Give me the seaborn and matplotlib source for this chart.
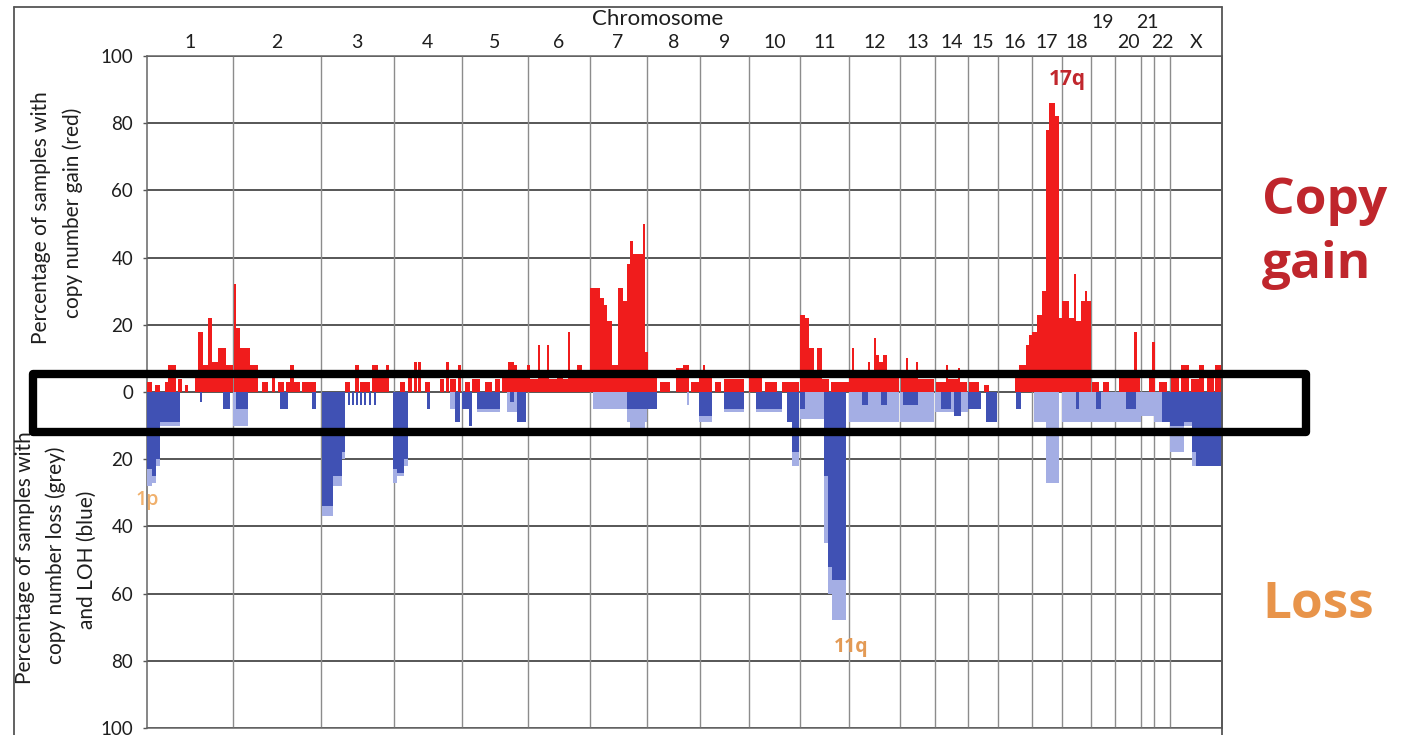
import numpy as np
import pandas as pd
import matplotlib
matplotlib.use("Agg")
import matplotlib.pyplot as plt
import seaborn as sns
from matplotlib import font_manager
from matplotlib.transforms import blended_transform_factory
from matplotlib.patches import Rectangle
from matplotlib.lines import Line2D

# ---------------- data ----------------
chrom_names = ['1', '2', '3', '4', '5', '6', '7', '8', '9', '10', '11', '12',
               '13', '14', '15', '16', '17', '18', '19', '20', '21', '22', 'X']
chrom_sizes = [86, 88, 73, 68, 66, 62, 57, 54, 49, 51, 49, 51,
               35, 33, 30, 34, 30, 29, 24, 26, 13, 16, 52]

# (start, end, percent) along the concatenated genome
gain_segments = [
    (0, 5, 3), (8, 13, 2), (18, 21, 3), (21, 29, 8), (31, 35, 4), (38, 41, 2), (48, 51, 5),
    (51, 56, 18), (56, 61, 8), (61, 65, 22), (65, 71, 9), (71, 79, 13), (79, 86, 8),
    (87, 89, 32), (89, 93, 19), (93, 103, 13), (103, 111, 8), (115, 121, 3), (125, 128, 5),
    (131, 137, 3), (139, 143, 3), (143, 147, 8), (147, 153, 3), (155, 169, 3),
    (198, 203, 3), (208, 212, 8), (213, 223, 3), (225, 231, 8), (231, 239, 5), (239, 242, 8),
    (253, 258, 3), (261, 265, 5), (267, 270, 9), (271, 274, 9), (278, 283, 3), (293, 297, 4),
    (299, 302, 9), (303, 309, 4), (311, 314, 8),
    (318, 323, 3), (325, 333, 4), (338, 345, 3), (348, 353, 4), (355, 361, 6), (361, 367, 9),
    (367, 370, 8), (370, 380, 5),
    (380, 383, 8), (383, 391, 4), (391, 393, 14), (393, 400, 5), (400, 402, 14), (402, 410, 4),
    (410, 416, 5), (416, 421, 4), (421, 423, 18), (423, 430, 5), (430, 435, 8), (435, 443, 5),
    (443, 453, 31), (453, 457, 28), (457, 460, 26), (460, 465, 21), (465, 471, 8), (471, 476, 31),
    (476, 480, 27), (480, 483, 38), (483, 486, 45), (486, 496, 41), (496, 498, 50), (498, 501, 12),
    (501, 510, 5),
    (513, 523, 3), (529, 536, 7), (536, 543, 8), (545, 553, 3),
    (553, 557, 5), (557, 559, 8), (559, 566, 5), (569, 575, 3), (578, 598, 4),
    (603, 616, 5), (619, 631, 3), (636, 653, 3),
    (654, 659, 23), (659, 663, 22), (663, 668, 13), (668, 671, 6), (671, 676, 13), (676, 683, 4),
    (685, 703, 3),
    (703, 706, 5), (706, 708, 13), (708, 722, 5), (722, 724, 9), (724, 728, 5), (728, 730, 16),
    (730, 733, 11), (733, 737, 9), (737, 741, 11), (741, 753, 6),
    (755, 760, 5), (760, 762, 10), (762, 770, 5), (770, 772, 9), (772, 788, 4),
    (790, 800, 3), (800, 802, 8), (802, 812, 4), (812, 814, 7), (814, 821, 3),
    (823, 833, 3), (838, 843, 2),
    (869, 873, 5), (873, 880, 8), (880, 883, 14), (883, 886, 17),
    (886, 891, 18), (891, 896, 23), (896, 900, 30), (900, 903, 78), (903, 909, 86), (909, 913, 82),
    (913, 916, 22),
    (916, 923, 27), (923, 928, 22), (928, 930, 35), (930, 935, 21), (935, 939, 27), (939, 941, 30),
    (941, 945, 27),
    (946, 953, 3), (957, 963, 3),
    (973, 988, 5), (988, 991, 18), (991, 994, 5),
    (1003, 1006, 5), (1006, 1009, 15), (1013, 1021, 3),
    (1025, 1033, 5), (1035, 1043, 8), (1045, 1053, 4), (1053, 1058, 8), (1061, 1068, 5),
    (1069, 1076, 8),
]

loss_segments = [
    (0, 5, 28), (5, 9, 27), (9, 13, 22), (13, 33, 10), (53, 55, 3), (76, 83, 5), (86, 101, 10),
    (133, 141, 5), (165, 169, 5),
    (175, 186, 37), (186, 195, 28), (195, 198, 20), (201, 203, 4), (205, 207, 4), (209, 211, 4),
    (213, 215, 4), (217, 219, 4), (222, 224, 4), (227, 229, 4),
    (246, 250, 27), (250, 257, 25), (257, 261, 22), (280, 283, 5), (303, 308, 5), (308, 313, 9),
    (315, 322, 5), (322, 325, 10), (330, 353, 6), (360, 370, 6), (370, 379, 9),
    (446, 480, 5), (480, 483, 9), (483, 498, 12), (498, 500, 9), (500, 510, 5),
    (541, 543, 4),
    (553, 566, 9), (578, 598, 6),
    (610, 636, 6), (641, 646, 9), (646, 653, 22),
    (654, 678, 8), (678, 682, 45), (682, 686, 60), (686, 700, 68),
    (703, 753, 9), (754, 788, 9), (789, 822, 6),
    (822, 835, 5), (840, 851, 9), (870, 875, 5),
    (888, 900, 9), (900, 913, 27),
    (916, 945, 9), (945, 969, 9), (969, 995, 9), (995, 1008, 7), (1008, 1024, 9),
    (1024, 1038, 18), (1038, 1046, 10), (1046, 1076, 22),
]

loh_segments = [
    (0, 5, 23), (5, 9, 25), (9, 13, 20), (13, 33, 9), (53, 55, 3), (76, 83, 5), (89, 101, 5),
    (133, 141, 5), (165, 169, 5),
    (175, 186, 34), (186, 195, 25), (195, 198, 18), (201, 203, 4), (205, 207, 4), (209, 211, 4),
    (213, 215, 4), (217, 219, 4), (222, 224, 4), (227, 229, 4),
    (246, 250, 23), (250, 257, 24), (257, 261, 20), (280, 283, 5), (308, 313, 9),
    (315, 322, 5), (322, 325, 10), (330, 353, 5), (363, 367, 3), (370, 379, 9),
    (480, 500, 5), (500, 510, 5),
    (553, 566, 7), (578, 598, 5),
    (610, 636, 5), (641, 646, 9), (646, 653, 18),
    (654, 659, 5), (678, 682, 25), (682, 686, 52), (686, 700, 56),
    (716, 722, 4), (735, 741, 4), (757, 772, 4),
    (795, 805, 5), (808, 815, 7), (822, 835, 5), (840, 851, 9), (870, 875, 5),
    (930, 933, 5), (950, 955, 5), (980, 990, 5), (1016, 1024, 9),
    (1024, 1038, 10), (1038, 1046, 9), (1046, 1050, 18), (1050, 1076, 22),
]

y_ticks = [-100, -80, -60, -40, -20, 0, 20, 40, 60, 80, 100]

# ---------------- style ----------------
sns.set_theme(style="white")
available = {f.name for f in font_manager.fontManager.ttflist}
base_font = "Lato" if "Lato" in available else "DejaVu Sans"
bold_font = "Open Sans" if "Open Sans" in available else "DejaVu Sans"
plt.rcParams["font.family"] = [base_font, "DejaVu Sans"]

GAIN_C = "#f01c1c"
LOSS_C = "#a4aee4"
LOH_C = "#4051b4"
TXT_C = "#1e1e1e"

W, H = 1401, 735
fig = plt.figure(figsize=(W / 100, H / 100), dpi=100)
fig.patch.set_facecolor("white")
ax = fig.add_axes([147 / W, 1 - 728 / H, (1222 - 147) / W, (728 - 56) / H])
ax.set_facecolor("white")


def step_frame(segments, sign):
    edges, vals, pos = [], [], 0
    for s, e, v in segments:
        if s > pos:
            edges.append(pos)
            vals.append(0.0)
        edges.append(s)
        vals.append(float(v))
        pos = e
    edges.append(pos)
    edges = np.array(edges, float)
    mids = (edges[:-1] + edges[1:]) / 2
    return edges.tolist(), pd.DataFrame({"pos": mids, "pct": np.array(vals) * sign})


def draw(segments, sign, color, z):
    edges, df = step_frame(segments, sign)
    sns.histplot(data=df, x="pos", weights="pct", bins=edges, element="step", fill=True,
                 color=color, alpha=1, linewidth=0, ax=ax, zorder=z)


draw(gain_segments, 1, GAIN_C, 3)
draw(loss_segments, -1, LOSS_C, 3)
draw(loh_segments, -1, LOH_C, 4)

genome_len = sum(chrom_sizes)
bounds = np.concatenate([[0], np.cumsum(chrom_sizes)])
centers = (bounds[:-1] + bounds[1:]) / 2

ax.set_xlim(0, genome_len)
ax.set_ylim(-100, 100)
for y in y_ticks:
    ax.axhline(y, color="#3a3a3a", lw=1.2, zorder=1)
for b in bounds[1:-1]:
    ax.axvline(b, color="#8c8c8c", lw=1.0, zorder=1)

ax.set_xticks([])
ax.set_yticks(y_ticks)
ax.set_yticklabels([str(abs(t)) for t in y_ticks])
ax.tick_params(axis="y", direction="out", length=3, width=1, color="#555555",
               pad=7, labelsize=13.5, labelcolor=TXT_C, left=True)
ax.set_xlabel("")
ax.set_ylabel("")
for side, sp in ax.spines.items():
    sp.set_visible(True)
    sp.set_color("#666666")
    sp.set_linewidth(1.1)

# chromosome labels
trans = blended_transform_factory(ax.transData, fig.transFigure)
for name, c in zip(chrom_names, centers):
    yy = 1 - (22 / H) if name in ("19", "21") else 1 - (43 / H)
    ax.text(c, yy, name, transform=trans, ha="center", va="center",
            fontsize=14, color=TXT_C, clip_on=False)
fig.text(658 / W, 1 - 19 / H, "Chromosome", ha="center", va="center",
         fontsize=16, color=TXT_C)

# axis titles
title_kw = dict(rotation=90, ha="center", va="center", fontsize=15, color=TXT_C)
fig.text(41 / W, 1 - 218 / H, "Percentage of samples with", **title_kw)
fig.text(73 / W, 1 - 213 / H, "copy number gain (red)", **title_kw)
fig.text(25 / W, 1 - 558 / H, "Percentage of samples with", **title_kw)
fig.text(56 / W, 1 - 555 / H, "copy number loss (grey)", **title_kw)
fig.text(87 / W, 1 - 560 / H, "and LOH (blue)", **title_kw)

# region annotations
ax.text(921, 93, "17q", ha="center", va="center", fontsize=15, fontweight="bold",
        color="#c1272d", family=[bold_font, "DejaVu Sans"])
ax.text(0, -32, "1p", ha="center", va="center", fontsize=14, fontweight="semibold",
        color="#f0b06c", family=[bold_font, "DejaVu Sans"], clip_on=False, zorder=6)
ax.text(705, -76, "11q", ha="center", va="center", fontsize=14, fontweight="bold",
        color="#e39a55", family=[bold_font, "DejaVu Sans"])

# right-side headings
head_kw = dict(ha="left", va="baseline", fontsize=37, fontweight="bold",
               family=[bold_font, "DejaVu Sans"])
fig.text(1262 / W, 1 - 214 / H, "Copy", color="#bf262c", **head_kw)
fig.text(1262 / W, 1 - 278 / H, "gain", color="#bf262c", **head_kw)
fig.text(1262 / W, 1 - 618 / H, "Loss", color="#e8944a", **head_kw)

# outer frame
frame_kw = dict(color="#555555", lw=1.3, transform=fig.transFigure)
fig.add_artist(Line2D([14 / W, 14 / W], [0, 1 - 7 / H], **frame_kw))
fig.add_artist(Line2D([14 / W, 1222 / W], [1 - 7 / H, 1 - 7 / H], **frame_kw))
fig.add_artist(Line2D([1222 / W, 1222 / W], [0, 1 - 7 / H], **frame_kw))

# highlight box
box = Rectangle((33 / W, 1 - 432 / H), (1306 - 33) / W, (432 - 374) / H,
                transform=fig.transFigure, fill=False, ec="black", lw=6,
                joinstyle="round", zorder=20)
fig.add_artist(box)

fig.savefig("out.png", dpi=100, facecolor="white")
